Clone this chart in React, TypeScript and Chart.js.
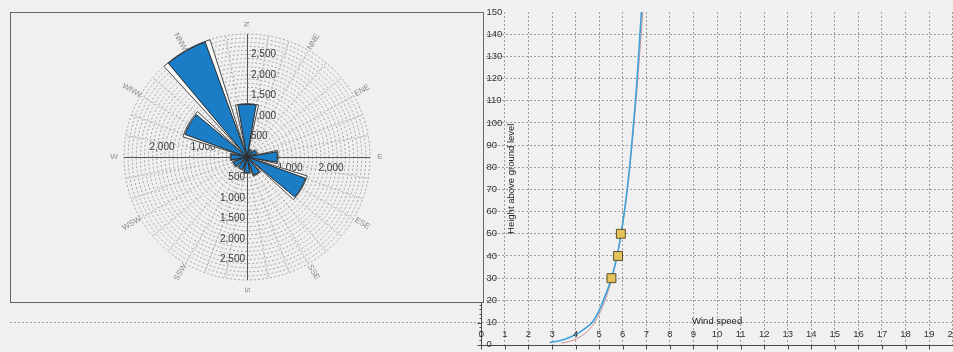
import React, { useEffect, useRef } from 'react';
import { Chart, registerables } from 'chart.js';
Chart.register(...registerables);

// ---- Wind rose data ----
const directions = ['N', 'NNE', 'ENE', 'E', 'ESE', 'SSE', 'S', 'SSW', 'WSW', 'W', 'WNW', 'NNW'];
const roseMain = [1285, 180, 250, 740, 1520, 470, 380, 320, 350, 390, 1610, 2985];
const roseAll = [1300, 200, 270, 760, 1540, 490, 400, 340, 370, 410, 1640, 3000];
const roseTicks = [500, 1000, 1500, 2000, 2500];
const roseMax = 3000;

// ---- Wind profile data ----
const logHeights = [1, 2, 3, 5, 7.5, 10, 15, 20, 30, 40, 50, 60, 70, 80, 90, 100, 110, 120, 130, 140, 150];
const logSpeeds = [2.9, 3.4, 3.68, 4.07, 4.42, 4.7, 4.98, 5.18, 5.52, 5.76, 5.93, 6.07, 6.19, 6.29, 6.38, 6.46, 6.54, 6.61, 6.67, 6.73, 6.79];
const powerHeights = [0.7, 1, 2, 3, 5, 7.5, 10, 15, 20, 30, 40, 50, 60, 80, 100, 120, 150];
const powerSpeeds = [3.4, 3.55, 3.89, 4.1, 4.39, 4.63, 4.8, 5.06, 5.25, 5.55, 5.76, 5.93, 6.07, 6.3, 6.48, 6.64, 6.85];
const measuredHeights = [30, 40, 50];
const measuredSpeeds = [5.52, 5.8, 5.92];
const speedTicks = [0, 1, 2, 3, 4, 5, 6, 7, 8, 9, 10, 11, 12, 13, 14, 15, 16, 17, 18, 19, 20];
const heightTicks = [0, 10, 20, 30, 40, 50, 60, 70, 80, 90, 100, 110, 120, 130, 140, 150];

const FONT = '"Liberation Sans", Arial, sans-serif';

// wedge geometry (degrees)
const SECTOR = 360 / directions.length;
const MAIN_W = 20;
const ALL_W = 25;

function buildSegments(values: number[], wedge: number) {
  const gap = SECTOR - wedge;
  const vals: number[] = [0];
  const angles: number[] = [SECTOR / 2 - wedge / 2];
  values.forEach((v, i) => {
    vals.push(v);
    angles.push(wedge);
    if (i < values.length - 1) {
      vals.push(0);
      angles.push(gap);
    }
  });
  vals.push(0);
  angles.push(SECTOR / 2 - wedge / 2);
  return { vals, angles };
}

const roseDecor = {
  id: 'roseDecor',
  beforeDatasetsDraw(chart: any) {
    const { ctx } = chart;
    const r = chart.scales.r;
    const cx = r.xCenter;
    const cy = r.yCenter;
    const R = r.getDistanceFromCenterForValue(roseMax);
    ctx.save();
    // dotted rings
    ctx.lineWidth = 1;
    ctx.strokeStyle = '#a2a2a2';
    ctx.setLineDash([2, 2]);
    for (let v = 100; v <= roseMax; v += 100) {
      const rad = r.getDistanceFromCenterForValue(v);
      ctx.beginPath();
      ctx.arc(cx, cy, rad, 0, Math.PI * 2);
      ctx.stroke();
    }
    // dotted radial lines
    ctx.strokeStyle = '#b0b0b0';
    for (let a = 0; a < 360; a += 10) {
      if (a % 90 === 0) continue;
      const t = (a * Math.PI) / 180;
      ctx.beginPath();
      ctx.moveTo(cx + 8 * Math.sin(t), cy - 8 * Math.cos(t));
      ctx.lineTo(cx + R * Math.sin(t), cy - R * Math.cos(t));
      ctx.stroke();
    }
    ctx.setLineDash([]);
    // axes
    ctx.strokeStyle = '#555';
    ctx.beginPath();
    ctx.moveTo(cx + 0.5, cy - R);
    ctx.lineTo(cx + 0.5, cy + R);
    ctx.moveTo(cx - R, cy + 0.5);
    ctx.lineTo(cx + R, cy + 0.5);
    ctx.stroke();
    // tick labels
    ctx.font = `10px ${FONT}`;
    ctx.fillStyle = '#3c3c3c';
    ctx.textBaseline = 'middle';
    roseTicks.forEach((v) => {
      const rad = r.getDistanceFromCenterForValue(v);
      const txt = v.toLocaleString('en-US');
      ctx.textAlign = 'left';
      ctx.fillText(txt, cx + 4, cy - rad);
      ctx.textAlign = 'right';
      ctx.fillText(txt, cx - 2, cy + rad);
      if (v % 1000 === 0) {
        ctx.textAlign = 'center';
        ctx.fillText(txt, cx - rad - 3, cy - 10);
        ctx.fillText(txt, cx + rad + 2, cy + 11);
      }
    });
    // direction labels
    ctx.font = `8px ${FONT}`;
    ctx.fillStyle = '#8a8a8a';
    ctx.textAlign = 'center';
    directions.forEach((d, i) => {
      const a = i * SECTOR;
      const t = (a * Math.PI) / 180;
      const rr = R + 10;
      ctx.save();
      ctx.translate(cx + rr * Math.sin(t), cy - rr * Math.cos(t));
      const rot = a <= 180 ? a - 90 : a + 90;
      ctx.rotate((rot * Math.PI) / 180);
      ctx.fillText(d, 0, 0);
      ctx.restore();
    });
    ctx.restore();
  },
};

const profileDecor = {
  id: 'profileDecor',
  afterDraw(chart: any) {
    const { ctx } = chart;
    const x = chart.scales.x;
    const y = chart.scales.y;
    const x0 = Math.round(x.getPixelForValue(0)) + 0.5;
    const y0 = Math.round(y.getPixelForValue(0)) + 0.5;
    const yTop = y.getPixelForValue(heightTicks[heightTicks.length - 1]);
    const xEnd = x.getPixelForValue(speedTicks[speedTicks.length - 1]);
    ctx.save();
    ctx.strokeStyle = '#4a4a4a';
    ctx.lineWidth = 1;
    ctx.beginPath();
    ctx.moveTo(x0, yTop);
    ctx.lineTo(x0, y0);
    ctx.moveTo(x0, y0);
    ctx.lineTo(xEnd + 5, y0);
    for (let v = 0; v <= 150; v += 2) {
      const py = Math.round(y.getPixelForValue(v)) + 0.5;
      const len = v % 10 === 0 ? 4 : 2;
      ctx.moveTo(x0 - len, py);
      ctx.lineTo(x0, py);
    }
    speedTicks.forEach((v) => {
      const px = Math.round(x.getPixelForValue(v)) + 0.5;
      ctx.moveTo(px, y0);
      ctx.lineTo(px, y0 + 4);
    });
    ctx.stroke();

    ctx.font = `9.5px ${FONT}`;
    ctx.fillStyle = '#333';
    ctx.textBaseline = 'middle';
    ctx.textAlign = 'left';
    heightTicks.forEach((v) => ctx.fillText(String(v), x0 + 5, y.getPixelForValue(v)));
    ctx.textAlign = 'center';
    speedTicks.forEach((v) => ctx.fillText(String(v), x.getPixelForValue(v), y0 - 11));
    ctx.fillStyle = '#222';
    ctx.fillText('Wind speed', (x0 + xEnd) / 2, y.getPixelForValue(10) - 1);
    ctx.translate(x0 + 29.5, (yTop + y0) / 2);
    ctx.rotate(-Math.PI / 2);
    ctx.fillText('Height above ground level', 0, 0);
    ctx.restore();
  },
};

export default function App() {
  const lineRef = useRef<HTMLCanvasElement>(null);
  const roseRef = useRef<HTMLCanvasElement>(null);

  useEffect(() => {
    const main = buildSegments(roseMain, MAIN_W);
    const all = buildSegments(roseAll, ALL_W);
    const segLabels = main.vals.map((_, i) => (i % 2 === 1 ? directions[(i - 1) / 2] : ''));

    const rose = new Chart(roseRef.current!, {
      type: 'polarArea',
      data: {
        labels: segLabels,
        datasets: [
          {
            data: main.vals,
            backgroundColor: '#1b7dc6',
            borderColor: '#2a2a2a',
            borderWidth: (c: any) => (c.dataIndex % 2 === 1 ? 1 : 0),
            angle: (c: any) => main.angles[c.dataIndex],
          } as any,
          {
            data: all.vals,
            backgroundColor: '#f8faf7',
            borderColor: '#4a4a4a',
            borderWidth: (c: any) => (c.dataIndex % 2 === 1 ? 1 : 0),
            angle: (c: any) => all.angles[c.dataIndex],
          } as any,
        ],
      },
      options: {
        responsive: false,
        animation: false,
        layout: { padding: { left: 113, right: 113, top: 21, bottom: 22 } },
        plugins: { legend: { display: false }, tooltip: { enabled: false } },
        scales: {
          r: {
            min: 0,
            max: roseMax,
            startAngle: -SECTOR / 2,
            ticks: { display: false, stepSize: 100 },
            grid: { display: false },
            angleLines: { display: false },
            pointLabels: { display: false },
          },
        },
      } as any,
      plugins: [roseDecor],
    });

    const gridColor = '#9c9c9c';
    const line = new Chart(lineRef.current!, {
      type: 'line',
      data: {
        datasets: [
          {
            label: 'Measured',
            data: measuredSpeeds.map((s, i) => ({ x: s, y: measuredHeights[i] })),
            showLine: false,
            pointStyle: 'rect',
            pointRadius: 6.3,
            pointBackgroundColor: '#e4c35b',
            pointBorderColor: '#5b4f2b',
            pointBorderWidth: 1,
            order: 0,
          },
          {
            label: 'Log law',
            data: logSpeeds.map((s, i) => ({ x: s, y: logHeights[i] })),
            borderColor: '#3fa1da',
            borderWidth: 1.6,
            pointRadius: 0,
            cubicInterpolationMode: 'monotone',
            order: 1,
          },
          {
            label: 'Power law',
            data: powerSpeeds.map((s, i) => ({ x: s, y: powerHeights[i] })),
            borderColor: '#c99096',
            borderWidth: 1,
            pointRadius: 0,
            cubicInterpolationMode: 'monotone',
            order: 2,
          },
        ],
      },
      options: {
        responsive: false,
        animation: false,
        layout: { padding: { left: 10, right: 3, top: 12, bottom: 4 } },
        plugins: { legend: { display: false }, tooltip: { enabled: false } },
        scales: {
          x: {
            type: 'linear',
            min: -20,
            max: 20,
            ticks: { display: false, stepSize: 1 },
            grid: {
              drawTicks: false,
              color: (c: any) => (c.tick && c.tick.value > 0 ? gridColor : 'transparent'),
            },
            border: { display: false, dash: [2, 2] },
          },
          y: {
            type: 'linear',
            min: 0,
            max: 150,
            ticks: { display: false, stepSize: 10 },
            grid: {
              drawTicks: false,
              color: (c: any) => (c.tick && c.tick.value > 0 && c.tick.value < 150 ? gridColor : 'transparent'),
            },
            border: { display: false, dash: [2, 2] },
          },
        },
      } as any,
      plugins: [profileDecor],
    });

    return () => {
      rose.destroy();
      line.destroy();
    };
  }, []);

  return (
    <div
      style={{
        position: 'fixed',
        left: 0,
        top: 0,
        width: 953,
        height: 352,
        overflow: 'hidden',
        background: '#f0f0f0',
      }}
    >
      <canvas
        ref={lineRef}
        width={960}
        height={352}
        style={{ position: 'absolute', left: 0, top: 0, width: 960, height: 352 }}
      />
      <div
        style={{
          position: 'absolute',
          left: 10,
          top: 12,
          width: 472,
          height: 289,
          border: '1px solid #666',
          background: '#f0f0f0',
        }}
      >
        <canvas
          ref={roseRef}
          width={472}
          height={289}
          style={{ position: 'absolute', left: 0, top: 0, width: 472, height: 289 }}
        />
      </div>
    </div>
  );
}
